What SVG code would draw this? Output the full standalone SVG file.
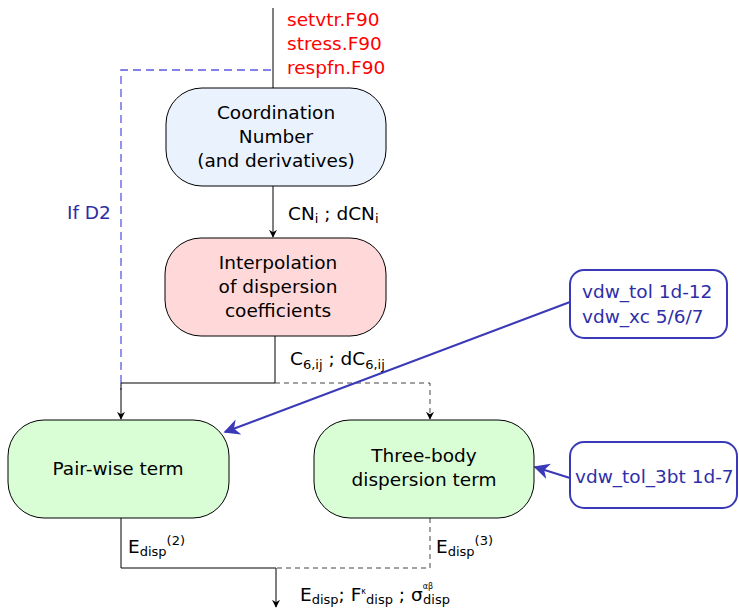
<svg xmlns="http://www.w3.org/2000/svg" width="739" height="608" viewBox="0 0 739 608">
<defs>
<style>
text{font-family:"DejaVu Sans","Liberation Sans",sans-serif;font-size:18.5px;fill:#000}
.red{fill:#ff0000}
.blue{fill:#2e2ea8}
.node rect{stroke:#000;stroke-width:1}
.ln{fill:none;stroke:#000;stroke-width:1}
.dash{fill:none;stroke:#444;stroke-width:1;stroke-dasharray:5,4}
.bdash{fill:none;stroke:#5a5ae0;stroke-width:1.3;stroke-dasharray:8,5}
.barrow{fill:none;stroke:#3a3ab8;stroke-width:2}
.vbox rect{fill:#fff;stroke:#3a3ab8;stroke-width:2}
.sub{font-size:13px}
.tiny{font-size:8px}
</style>
<marker id="ah" viewBox="0 0 10 10" refX="9" refY="5" markerWidth="8" markerHeight="8" orient="auto" markerUnits="userSpaceOnUse">
<path d="M0,0 L10,5 L0,10 L3,5 Z" fill="#000"/>
</marker>
<marker id="bah" viewBox="0 0 10 10" refX="9" refY="5" markerWidth="16" markerHeight="16" orient="auto" markerUnits="userSpaceOnUse">
<path d="M0,0 L10,5 L0,10 L3,5 Z" fill="#3a3ab8"/>
</marker>
</defs>

<g id="connectors">
<line class="ln" x1="273" y1="8" x2="273" y2="88"/>
<path class="bdash" d="M271,70 H121 V390"/>
<line class="ln" x1="273" y1="186" x2="273" y2="237" marker-end="url(#ah)"/>
<path class="ln" d="M275,336 V383 H121 V419" marker-end="url(#ah)"/>
<path class="dash" d="M275,383 H430 V419" marker-end="url(#ah)"/>
<line class="barrow" x1="570" y1="302" x2="225" y2="432" marker-end="url(#bah)"/>
<line class="barrow" x1="570" y1="478" x2="535" y2="467" marker-end="url(#bah)"/>
<path class="ln" d="M121,518 V568 H276"/>
<path class="dash" d="M430,518 V568 H276"/>
<line class="ln" x1="276" y1="568" x2="276" y2="607" marker-end="url(#ah)"/>
</g>

<g id="files">
<text class="red" x="287" y="26">setvtr.F90</text>
<text class="red" x="287" y="50">stress.F90</text>
<text class="red" x="287" y="74">respfn.F90</text>
</g>

<text class="blue" x="67" y="219">If D2</text>

<g id="coord" class="node">
<rect x="166" y="88" width="220" height="98" rx="36" fill="#eaf2fe"/>
<text x="276" y="119" text-anchor="middle">Coordination</text>
<text x="276" y="143" text-anchor="middle">Number</text>
<text x="276" y="167" text-anchor="middle">(and derivatives)</text>
</g>

<text x="288" y="220">CN<tspan class="sub" dy="3">i</tspan><tspan dy="-3"> ; dCN</tspan><tspan class="sub" dy="3">i</tspan></text>

<g id="interp" class="node">
<rect x="165" y="238" width="221" height="98" rx="36" fill="#ffd9d9"/>
<text x="278" y="269" text-anchor="middle">Interpolation</text>
<text x="278" y="293" text-anchor="middle">of dispersion</text>
<text x="278" y="317" text-anchor="middle">coefficients</text>
</g>

<text x="290" y="365">C<tspan class="sub" dy="4">6,ij</tspan><tspan dy="-4"> ; dC</tspan><tspan class="sub" dy="4">6,ij</tspan></text>

<g id="pairwise" class="node">
<rect x="8" y="420" width="221" height="98" rx="36" fill="#d9fed5"/>
<text x="118" y="475" text-anchor="middle">Pair-wise term</text>
</g>

<g id="threebody" class="node">
<rect x="314" y="420" width="220" height="98" rx="36" fill="#d9fed5"/>
<text x="424" y="462" text-anchor="middle">Three-body</text>
<text x="424" y="486" text-anchor="middle">dispersion term</text>
</g>

<g id="vdw1" class="vbox">
<rect x="570" y="270" width="157" height="68" rx="14"/>
<text class="blue" x="582" y="298">vdw_tol 1d-12</text>
<text class="blue" x="582" y="323">vdw_xc 5/6/7</text>
</g>

<g id="vdw2" class="vbox">
<rect x="570" y="442" width="167" height="66" rx="14"/>
<text class="blue" x="575" y="483">vdw_tol_3bt 1d-7</text>
</g>

<text x="128" y="553">E<tspan class="sub" dy="3">disp</tspan><tspan class="sub" dy="-11">(2)</tspan></text>
<text x="436" y="553">E<tspan class="sub" dy="3">disp</tspan><tspan class="sub" dy="-11">(3)</tspan></text>
<text x="300" y="601">E<tspan class="sub" dy="3">disp</tspan><tspan dy="-3">; F</tspan><tspan class="tiny" dy="-7">κ</tspan><tspan class="sub" dy="10">disp</tspan><tspan dy="-3"> ; σ</tspan><tspan class="tiny" dy="-12">αβ</tspan><tspan class="sub" dx="-10" dy="15">disp</tspan></text>
</svg>
